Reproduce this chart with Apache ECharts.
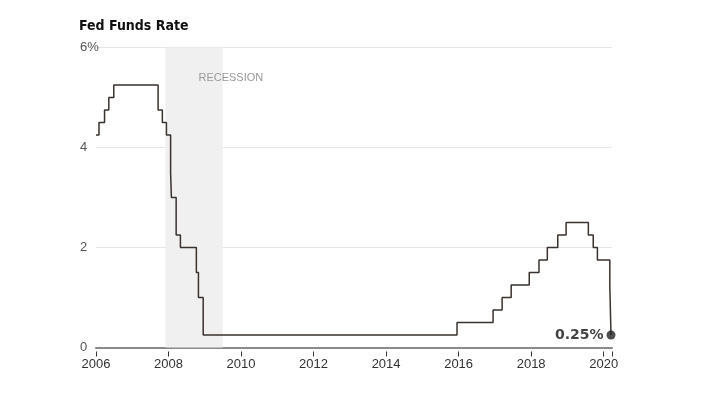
<!DOCTYPE html>
<html>
<head>
<meta charset="utf-8">
<script src="https://cdn.jsdelivr.net/npm/echarts@6/dist/echarts.min.js"></script>
<style>
html,body{margin:0;padding:0;background:#fff;}
#chart{width:704px;height:395px;}
</style>
</head>
<body>
<div id="chart"></div>
<script>
// Fed funds target rate (upper bound): date of change and new level
const changeDates = ['2006-01-01','2006-01-31','2006-03-28','2006-05-10','2006-06-29','2007-09-18','2007-10-31','2007-12-11','2008-01-22','2008-01-30','2008-03-18','2008-04-30','2008-10-08','2008-10-29','2008-12-16','2015-12-16','2016-12-14','2017-03-15','2017-06-14','2017-12-13','2018-03-21','2018-06-13','2018-09-26','2018-12-19','2019-07-31','2019-09-18','2019-10-30','2020-03-03','2020-03-15'];
const rates = [4.25,4.50,4.75,5.00,5.25,4.75,4.50,4.25,3.50,3.00,2.25,2.00,1.50,1.00,0.25,0.50,0.75,1.00,1.25,1.50,1.75,2.00,2.25,2.50,2.25,2.00,1.75,1.25,0.25];
const recession = ['2007-12-01','2009-06-30'];
const yTicks = [0,2,4,6];
const xTickYears = [2006,2008,2010,2012,2014,2016,2018,2020];
const lastLabel = '0.25%';

function toYear(s){
  const d = Date.parse(s + 'T00:00:00Z');
  const y = new Date(d).getUTCFullYear();
  const a = Date.UTC(y,0,1), b = Date.UTC(y+1,0,1);
  return y + (d - a) / (b - a);
}
const lineData = changeDates.map((d,i)=>[toYear(d), rates[i]]);
const lastPt = lineData[lineData.length-1];
const xMin = xTickYears[0], xMax = 2020.23;
const font = '"Liberation Sans", Arial, sans-serif';

const chart = echarts.init(document.getElementById('chart'));
chart.setOption({
  animation:false,
  title:{
    text:'Fed Funds Rate', left:79, top:19, padding:0,
    textStyle:{fontFamily:'"DejaVu Sans Condensed", "Liberation Sans", Arial, sans-serif', fontWeight:'bold', fontSize:14, color:'#111'}
  },
  grid:{left:96, right:92, top:47.5, bottom:47.5, containLabel:false},
  xAxis:[{
    type:'value', min:xMin, max:xMax, interval:2,
    axisLine:{show:true, lineStyle:{color:'#8a8a8a', width:2}},
    axisTick:{show:false}, axisLabel:{show:false}, splitLine:{show:false}
  },{
    type:'value', min:xMin, max:xMax, interval:2, position:'bottom', offset:4,
    axisLine:{show:false},
    axisTick:{show:true, length:5, lineStyle:{color:'#333', width:1}},
    axisLabel:{show:true, margin:6, fontFamily:font, fontSize:13, color:'#333',
      formatter:v=> xTickYears.includes(Math.round(v)) && Math.abs(v-Math.round(v))<1e-6 ? String(v) : ''},
    splitLine:{show:false}
  }],
  yAxis:{
    type:'value', min:yTicks[0], max:yTicks[yTicks.length-1], interval:2,
    axisLine:{show:false}, axisTick:{show:false},
    axisLabel:{align:'left', margin:16, fontFamily:font, fontSize:13, color:'#555',
      formatter:v=> v===yTicks[yTicks.length-1] ? v+'%' : String(v)},
    splitLine:{lineStyle:{color:'#e6e6e6', width:1}}
  },
  series:[{
    type:'line', step:'end', data:lineData, xAxisIndex:0, symbol:'none',
    lineStyle:{color:'#3a322e', width:1.5},
    markArea:{
      silent:true,
      itemStyle:{color:'#f0f0f0'},
      label:{show:true, position:[33,30], align:'left', verticalAlign:'middle', color:'#999', fontFamily:font, fontSize:11},
      data:[[{xAxis:toYear(recession[0]), name:'RECESSION'},{xAxis:toYear(recession[1])}]]
    },
    z:3
  },{
    type:'scatter', data:[lastPt], xAxisIndex:0, symbolSize:9,
    itemStyle:{color:'#222'},
    label:{show:true, position:'left', distance:3, formatter:lastLabel, fontFamily:'"DejaVu Sans", "Liberation Sans", Arial, sans-serif', fontWeight:'bold', fontSize:14, color:'#111'},
    z:4
  }]
});
</script>
</body>
</html>
